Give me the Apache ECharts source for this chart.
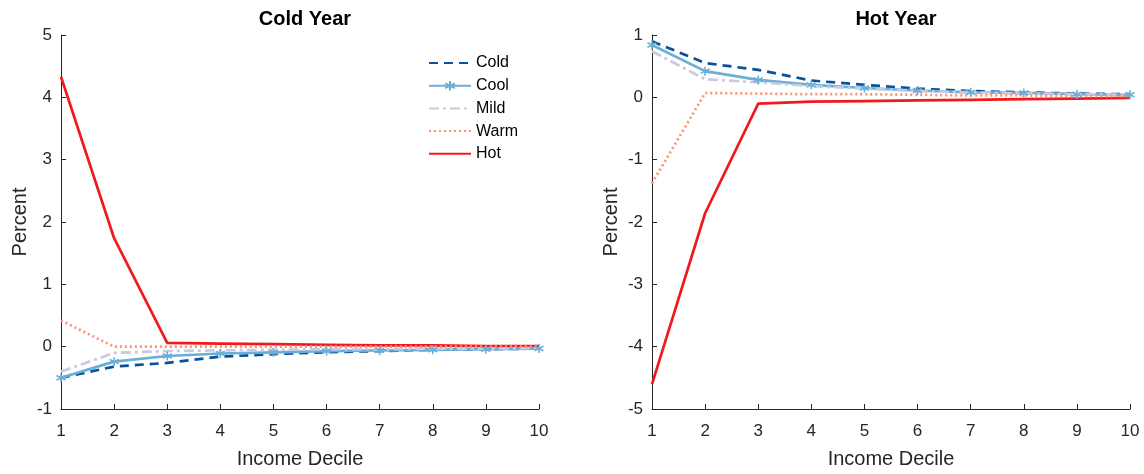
<!DOCTYPE html>
<html>
<head>
<meta charset="utf-8">
<script src="https://cdn.jsdelivr.net/npm/echarts@6/dist/echarts.min.js"></script>
<style>
  html, body { margin: 0; padding: 0; background: #fff; }
  #chart { width: 1144px; height: 474px; }
</style>
</head>
<body>
<div id="chart"></div>
<script>
// income deciles
var deciles = ['1', '2', '3', '4', '5', '6', '7', '8', '9', '10']
var seriesNames = ['Cold', 'Cool', 'Mild', 'Warm', 'Hot']

// Cold Year panel
var coldYearCold = [-0.50, -0.32, -0.26, -0.16, -0.12, -0.09, -0.07, -0.05, -0.04, -0.03]
var coldYearCool = [-0.50, -0.24, -0.15, -0.11, -0.09, -0.07, -0.06, -0.05, -0.04, -0.03]
var coldYearMild = [-0.40, -0.10, -0.07, -0.06, -0.05, -0.04, -0.04, -0.03, -0.03, -0.02]
var coldYearWarm = [0.42, 0.00, 0.00, 0.00, 0.00, 0.00, 0.00, 0.00, 0.00, 0.00]
var coldYearHot = [4.33, 1.74, 0.06, 0.05, 0.04, 0.03, 0.02, 0.02, 0.01, 0.01]

// Hot Year panel
var hotYearCold = [0.90, 0.55, 0.44, 0.27, 0.20, 0.14, 0.10, 0.08, 0.06, 0.05]
var hotYearCool = [0.84, 0.42, 0.28, 0.20, 0.15, 0.11, 0.08, 0.07, 0.05, 0.04]
var hotYearMild = [0.74, 0.29, 0.24, 0.18, 0.14, 0.10, 0.08, 0.06, 0.05, 0.04]
var hotYearWarm = [-1.38, 0.07, 0.06, 0.05, 0.05, 0.04, 0.03, 0.03, 0.02, 0.02]
var hotYearHot = [-4.60, -1.86, -0.10, -0.07, -0.06, -0.05, -0.04, -0.03, -0.02, -0.01]

var font = 'Liberation Sans, Arial, Helvetica, sans-serif'
var ink = '#262626'
var asterisk = 'path://M0,-10L0,10M-8.66,-5L8.66,5M-8.66,5L8.66,-5'

// line look per temperature group
var looks = {
  Cold: { color: '#08519c', type: [9, 6] },
  Cool: { color: '#6baed6', type: 'solid', marker: true },
  Mild: { color: '#cbc9e2', type: [10, 4, 3, 4] },
  Warm: { color: '#fc9272', type: [2, 3] },
  Hot: { color: '#f0191c', type: 'solid' }
}

function makeSeries(name, data, idx) {
  var look = looks[name]
  return {
    name: name,
    type: 'line',
    xAxisIndex: idx,
    yAxisIndex: idx,
    data: data,
    symbol: look.marker ? asterisk : 'none',
    symbolSize: 9,
    showSymbol: !!look.marker,
    itemStyle: {
      color: look.color,
      borderColor: look.color,
      borderWidth: 1.6
    },
    lineStyle: {
      color: look.color,
      width: 2.7,
      type: look.type
    },
    z: name === 'Hot' ? 1 : 2,
    animation: false
  }
}

function xAxisFor(idx) {
  return {
    type: 'category',
    gridIndex: idx,
    data: deciles,
    boundaryGap: false,
    name: 'Income Decile',
    nameLocation: 'middle',
    nameGap: 40,
    nameTextStyle: { fontFamily: font, fontSize: 20, color: ink },
    axisLine: { onZero: false, lineStyle: { color: ink, width: 1 } },
    axisTick: { inside: true, length: 5, lineStyle: { color: ink } },
    axisLabel: { fontFamily: font, fontSize: 17, color: ink, margin: 14 },
    splitLine: { show: false }
  }
}

function yAxisFor(idx, min, max) {
  return {
    type: 'value',
    gridIndex: idx,
    min: min,
    max: max,
    interval: 1,
    name: 'Percent',
    nameLocation: 'middle',
    nameGap: 31,
    nameTextStyle: { fontFamily: font, fontSize: 20, color: ink },
    axisLine: { show: true, onZero: false, lineStyle: { color: ink, width: 1 } },
    axisTick: { show: true, inside: true, length: 5, lineStyle: { color: ink } },
    axisLabel: { fontFamily: font, fontSize: 17, color: ink, margin: 9 },
    splitLine: { show: false }
  }
}

var legendItems = seriesNames.map(function (name) {
  if (looks[name].marker) {
    return { name: name }
  }
  return { name: name, itemStyle: { opacity: 0 } }
})

var chart = echarts.init(document.getElementById('chart'))
chart.setOption({
  backgroundColor: '#fff',
  animation: false,
  title: [
    { text: 'Cold Year', left: 300, top: 4, textAlign: 'center',
      textStyle: { fontFamily: font, fontSize: 20, fontWeight: 'bold', color: '#000' } },
    { text: 'Hot Year', left: 891, top: 4, textAlign: 'center',
      textStyle: { fontFamily: font, fontSize: 20, fontWeight: 'bold', color: '#000' } }
  ],
  legend: {
    data: legendItems,
    orient: 'vertical',
    left: 423,
    top: 50,
    itemWidth: 42,
    itemHeight: 12,
    itemGap: 6.7,
    textStyle: { fontFamily: font, fontSize: 16, color: '#000' }
  },
  grid: [
    { left: 61, top: 35, width: 478, height: 377 },
    { left: 652, top: 35, width: 478, height: 377 }
  ],
  xAxis: [xAxisFor(0), xAxisFor(1)],
  yAxis: [yAxisFor(0, -1, 5), yAxisFor(1, -5, 1)],
  series: [
    makeSeries('Cold', coldYearCold, 0),
    makeSeries('Cool', coldYearCool, 0),
    makeSeries('Mild', coldYearMild, 0),
    makeSeries('Warm', coldYearWarm, 0),
    makeSeries('Hot', coldYearHot, 0),
    makeSeries('Cold', hotYearCold, 1),
    makeSeries('Cool', hotYearCool, 1),
    makeSeries('Mild', hotYearMild, 1),
    makeSeries('Warm', hotYearWarm, 1),
    makeSeries('Hot', hotYearHot, 1)
  ]
})
</script>
</body>
</html>
